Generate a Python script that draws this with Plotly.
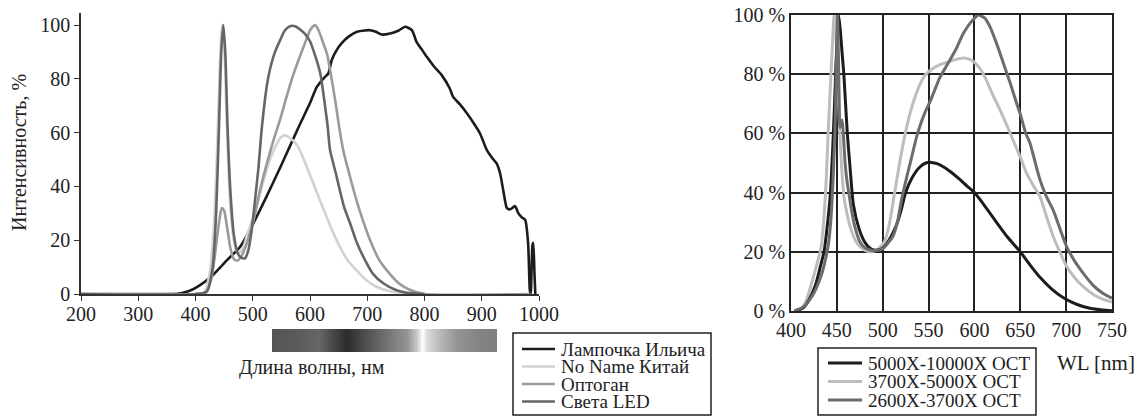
import plotly.graph_objects as go

FONT = "Liberation Serif, Times New Roman, serif"
INK = "#222222"

# ---------------- left panel: lamp spectra ----------------
lamp_wl = [200, 300, 360, 375, 390, 408, 430, 455, 478, 501, 524, 550, 565, 580, 600,
           612, 625, 632, 638, 646, 655, 668, 682, 695, 705, 715, 725, 740, 755, 766,
           778, 786, 795, 804, 817, 830, 844, 850, 862, 874, 886, 897, 909, 920, 926,
           932, 938, 944, 950, 958, 964, 970, 976, 981, 984, 985.5, 988.5, 990, 992, 993.5]
lamp_val = [0, 0, 0, 0.3, 1.2, 3.3, 7, 12.6, 17.6, 26.3, 36.2, 48, 55, 62, 71,
            77, 80.5, 82, 87, 90.5, 93.2, 95.8, 97.5, 98, 98.1, 97.5, 96.5, 96.9, 98, 99.4,
            98.1, 93.8, 91, 88.2, 84.5, 81.4, 76.5, 73.3, 70.5, 67.2, 63.5, 59.7, 53.5, 50.1, 48.6,
            44.9, 38, 31.9, 31.5, 32.7, 30, 28.5, 27.5, 18.8, 1.5, 0, 18, 19, 8, 0]

noname_wl = [200, 400, 415, 425, 432, 438, 442, 445, 447, 449, 452, 456, 461, 467, 472,
             477, 483, 490, 500, 510, 520, 530, 540, 548, 556, 565, 575, 582, 594, 606,
             618, 629, 640, 652, 666, 681, 698, 716, 740, 763, 790, 800]
noname_val = [0, 0, 0.5, 8, 25, 55, 82, 96, 100, 97, 82, 55, 32, 20, 16,
              15.5, 17, 22, 28, 35, 43, 50, 55, 58, 59, 58, 56, 53.5, 47.5, 41,
              34.5, 28.7, 23, 17.6, 12.5, 8.9, 5.2, 2.7, 1, 0.3, 0, 0]

optogan_wl = [400, 418, 428, 436, 442, 446, 450, 455, 461, 467, 473, 480, 490, 500, 512,
              524, 536, 548, 559, 570, 580, 591, 600, 605, 609, 615, 622, 630, 637, 644,
              651, 658, 670, 681, 693, 705, 720, 734, 755, 775, 800, 985]
optogan_val = [0, 0.5, 6, 18, 28, 32, 31, 25, 17, 13, 12.4, 14, 19, 26, 38,
               48, 57, 65, 73.3, 81, 87, 93.2, 98, 99.5, 100, 98, 94, 89, 81, 72,
               62, 53.5, 43.5, 35, 27, 20, 13, 8.9, 4, 1.5, 0, 0]

sveta_wl = [200, 400, 420, 430, 436, 441, 445, 448.5, 452, 456, 461, 467, 474, 480, 486.5,
            492, 497, 501, 505, 510, 515, 520, 525, 530, 538, 548, 556, 565, 575, 590,
            600, 610, 618, 625, 631, 635, 645, 652, 660, 670, 681, 693, 710, 728, 750,
            769, 800]
sveta_val = [0, 0, 1, 10, 30, 62, 90, 100, 90, 62, 38, 22, 15, 13.5, 13.3,
             16, 22, 29, 37, 47, 60, 70, 78, 83.5, 89.5, 94.5, 98, 99.6, 99.5, 97,
             94, 88, 82, 72, 62, 53.5, 45, 38.7, 32, 26.3, 19.5, 13.9, 7.5, 4, 1.5,
             0.5, 0]

left_names = ["Лампочка Ильича", "No Name Китай", "Оптоган", "Света LED"]
left_colors = ["#1c1c1c", "#d2d2d2", "#9a9a9a", "#666666"]

# grey-level profile of the spectrum strip (0 = black, 1 = white)
spectrum_pos = [0, 0.125, 0.21, 0.33, 0.42, 0.49, 0.6, 0.645, 0.665, 0.69, 0.746, 0.82, 0.91, 1.0]
spectrum_gray = [0.33, 0.36, 0.40, 0.17, 0.32, 0.42, 0.58, 0.8, 1.0, 0.85, 0.72, 0.58, 0.52, 0.5]

# ---------------- right panel: LED colour-temperature spectra ----------------
cold_wl = [404, 413, 420, 427, 432, 436, 440, 443, 445.5, 447.5, 449, 450.5, 452, 454,
           455.5, 457.6, 459.5, 461.4, 464, 468, 474, 480, 487, 493, 500, 507, 515, 520,
           525, 532, 540, 547, 553, 560, 572, 584, 592, 600, 612, 624, 636, 650, 662,
           672, 684, 697, 712, 726, 740, 750]
cold_val = [0, 1, 4, 9, 15, 20, 30, 40, 55, 70, 83, 93, 100, 94,
            88, 80, 70, 60, 50, 36, 28, 23.5, 21, 20.5, 21.2, 24, 29, 34,
            40, 45, 48.5, 50, 50.2, 49.7, 47.5, 44.5, 42.2, 40, 35.2, 30, 25, 20, 15,
            11.2, 7.5, 4.5, 2.2, 0.9, 0.3, 0.1]

warm_wl = [404, 410, 416, 423, 428, 433, 436, 438.5, 440.5, 442, 443.6, 445.5, 447, 448.5,
           450, 452, 454, 456, 458, 461, 465, 470, 476, 482, 488, 495, 502, 507, 513,
           519, 524.6, 530, 536, 542, 547, 555, 563, 570, 580, 588, 595, 600, 607, 613,
           620, 628, 635, 642, 650, 657, 664, 671.5, 679, 686, 693, 700.6, 710, 718.7,
           730, 740, 750]
warm_val = [0, 0.5, 3, 10, 15.5, 22, 32, 45, 60, 70, 80, 92, 100, 97,
            86, 70, 55, 45, 38, 33, 28, 24, 21.5, 20.3, 20, 21, 23.5, 29, 40,
            51, 60, 67, 73, 77.5, 80, 82, 83.3, 84, 85, 85.5, 85, 84, 81.5, 78,
            73, 67.9, 63, 57.8, 52, 46.5, 42.5, 38.6, 31.5, 25.1, 20, 15, 11, 8.2,
            5.5, 4, 3]

hot_wl = [404, 414, 422, 428, 434, 438, 441, 443.5, 445.5, 447, 448.3, 449.3, 450, 450.8,
          451.5, 452.5, 453.5, 455.7, 457, 459, 461, 463, 466, 470, 475, 480, 486, 492,
          500, 506, 511.5, 516, 520.8, 526, 530, 538, 546, 552, 562.5, 570, 580, 588,
          596, 604.4, 611, 617, 624, 631.6, 639, 646, 650, 656, 660.6, 666, 671.5, 678,
          686, 693, 700.6, 710, 718.7, 730, 740, 750]
hot_val = [0, 1.5, 4.5, 8, 13, 18, 23, 31, 42, 53, 65, 80, 90, 100,
           90, 72, 62, 64.5, 60, 50, 44, 40, 34, 28, 23.5, 21.5, 20.6, 20.4,
           21, 23, 25.5, 30, 38, 45, 50, 60, 67, 71, 79, 83, 88.5, 93.8,
           97.5, 100, 99, 96, 90.5, 83.7, 77, 70.2, 66.5, 60, 56.7, 50.5, 44.3, 39,
           34, 28, 21.7, 16.5, 12.7, 8.5, 6, 4.3]

right_names = ["5000X-10000X OCT", "3700X-5000X OCT", "2600X-3700X OCT"]
right_colors = ["#1c1c1c", "#bdbdbd", "#6c6c6c"]

W, H = 1140, 416


def px_x(p):
    return p / W


def px_y(p):
    return 1 - p / H


fig = go.Figure()

# left panel (Света LED drawn last so it sits on top)
left_series = [
    (0, lamp_wl, lamp_val),
    (1, noname_wl, noname_val),
    (2, optogan_wl, optogan_val),
    (3, sveta_wl, sveta_val),
]
for idx, xs, ys in left_series:
    fig.add_trace(go.Scatter(
        x=xs, y=ys, mode="lines", name=left_names[idx],
        line=dict(color=left_colors[idx], width=2.6, shape="spline", smoothing=0.6),
        xaxis="x", yaxis="y", showlegend=False, hoverinfo="skip",
    ))

# spectrum strip under the left panel
fig.add_trace(go.Heatmap(
    x=spectrum_pos, y=[0, 1], z=[spectrum_gray, spectrum_gray],
    colorscale=[[0, "#000000"], [1, "#ffffff"]], zmin=0, zmax=1,
    zsmooth="best", showscale=False, hoverinfo="skip",
    xaxis="x3", yaxis="y3",
))

# right panel
right_series = [
    (1, warm_wl, warm_val),
    (0, cold_wl, cold_val),
    (2, hot_wl, hot_val),
]
for idx, xs, ys in right_series:
    fig.add_trace(go.Scatter(
        x=xs, y=ys, mode="lines", name=right_names[idx],
        line=dict(color=right_colors[idx], width=3, shape="spline", smoothing=0.6),
        xaxis="x2", yaxis="y2", showlegend=False, hoverinfo="skip",
    ))

tickfont = dict(family=FONT, size=20, color=INK)

# hand-built legend boxes: frame, short line samples and labels
shapes = []
annotations = []


def add_legend(names, colors, left, right, top, bottom, first_y, step, line_x0, line_x1, text_x, width):
    shapes.append(dict(type="rect", xref="paper", yref="paper",
                       x0=px_x(left), x1=px_x(right), y0=px_y(bottom), y1=px_y(top),
                       line=dict(color=INK, width=1.5), fillcolor="rgba(0,0,0,0)"))
    for i, (name, color) in enumerate(zip(names, colors)):
        yy = first_y + i * step
        shapes.append(dict(type="line", xref="paper", yref="paper",
                           x0=px_x(line_x0), x1=px_x(line_x1), y0=px_y(yy), y1=px_y(yy),
                           line=dict(color=color, width=width)))
        annotations.append(dict(text=name, x=px_x(text_x), y=px_y(yy), xref="paper", yref="paper",
                                xanchor="left", yanchor="middle", showarrow=False,
                                font=dict(family=FONT, size=19, color=INK)))


add_legend(left_names, left_colors, 513, 711, 333, 415, 349, 17.5, 522, 555, 559, 2.6)
add_legend(right_names, right_colors, 818, 1036, 348, 415, 363, 18.5, 828, 862, 866, 3)

annotations += [
    dict(text="Интенсивность, %", x=px_x(19), y=px_y(153), xref="paper", yref="paper",
         xanchor="center", yanchor="middle",
         textangle=-90, showarrow=False, font=dict(family=FONT, size=20, color=INK)),
    dict(text="Длина волны, нм", x=px_x(312), y=px_y(367), xref="paper", yref="paper",
         xanchor="center", yanchor="middle",
         showarrow=False, font=dict(family=FONT, size=20, color=INK)),
    dict(text="WL [nm]", x=px_x(1096), y=px_y(363), xref="paper", yref="paper",
         xanchor="center", yanchor="middle",
         showarrow=False, font=dict(family=FONT, size=21, color=INK)),
]

fig.update_layout(
    width=W, height=H,
    margin=dict(l=0, r=0, t=0, b=0, autoexpand=False),
    paper_bgcolor="white", plot_bgcolor="white",
    font=dict(family=FONT, color=INK),
    showlegend=False,
    xaxis=dict(
        domain=[px_x(81), px_x(539)], range=[200, 1000], anchor="y",
        tickvals=list(range(200, 1001, 100)),
        showline=True, linecolor="#333333", linewidth=1.6,
        ticks="outside", ticklen=5, tickwidth=1.4, tickcolor="#333333",
        ticklabelstandoff=-4,
        showgrid=False, zeroline=False, tickfont=tickfont, automargin=False,
    ),
    yaxis=dict(
        domain=[px_y(294), px_y(13)], range=[0, 104.5], anchor="x",
        tickvals=list(range(0, 101, 20)),
        showline=True, linecolor="#333333", linewidth=1.6,
        ticks="outside", ticklen=5, tickwidth=1.4, tickcolor="#333333",
        showgrid=False, zeroline=False, tickfont=tickfont, automargin=False,
    ),
    xaxis2=dict(
        domain=[px_x(791), px_x(1112)], range=[400, 750], anchor="y2",
        tickvals=list(range(400, 751, 50)),
        showline=True, mirror=True, linecolor=INK, linewidth=1.6,
        showgrid=True, gridcolor=INK, gridwidth=1.5,
        ticks="", zeroline=False, tickfont=tickfont, automargin=False,
    ),
    yaxis2=dict(
        domain=[px_y(311), px_y(15)], range=[0, 100], anchor="x2",
        tickvals=list(range(0, 101, 20)),
        ticktext=[f"{v} %" for v in range(0, 101, 20)],
        showline=True, mirror=True, linecolor=INK, linewidth=1.6,
        showgrid=True, gridcolor=INK, gridwidth=1.5,
        ticks="", zeroline=False, tickfont=tickfont, automargin=False,
    ),
    xaxis3=dict(domain=[px_x(272), px_x(497)], range=[0, 1], anchor="y3",
                visible=False, fixedrange=True),
    yaxis3=dict(domain=[px_y(352), px_y(329)], range=[0, 1], anchor="x3",
                visible=False, fixedrange=True),
    shapes=shapes,
    annotations=annotations,
)

fig.write_html("out.html")
